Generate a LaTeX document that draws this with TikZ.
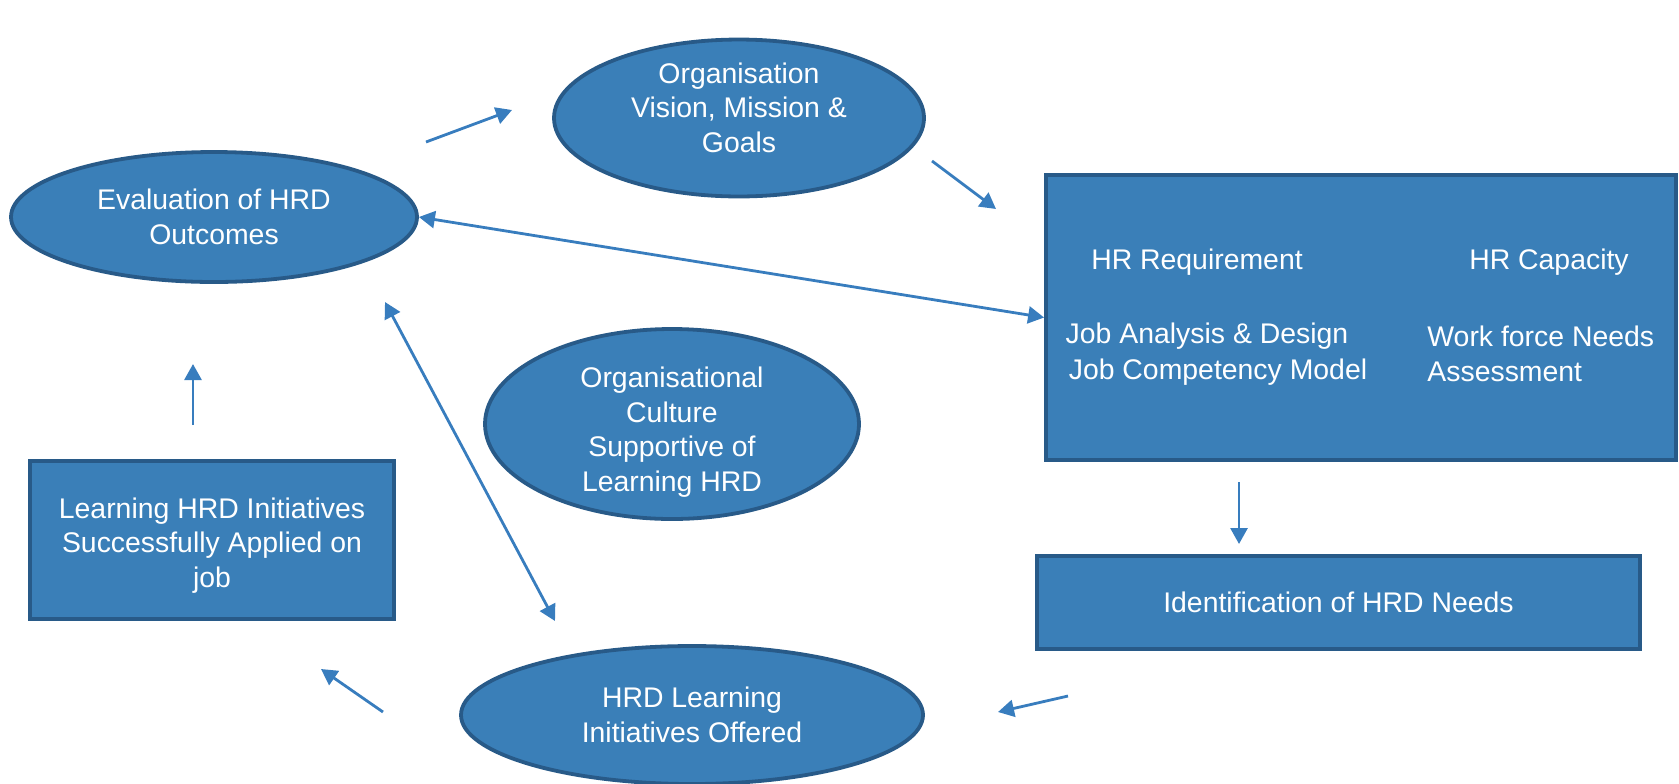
\documentclass[tikz,border=0pt]{standalone}
\usepackage{fontspec}
\setmainfont{Liberation Sans}
\usetikzlibrary{shapes.geometric,arrows.meta}
\definecolor{boxfill}{RGB}{58,127,184}
\definecolor{boxline}{RGB}{40,90,136}
\definecolor{arrowc}{RGB}{56,125,190}
\begin{document}
\begin{tikzpicture}[x=0.5pt,y=-0.5pt,
  every node/.style={font=\fontsize{14.2}{17.4}\selectfont, text=white},
  oval/.style={ellipse, draw=boxline, fill=boxfill, line width=1.9pt, inner sep=0pt, align=center},
  rbox/.style={rectangle, draw=boxline, fill=boxfill, line width=1.9pt, inner sep=0pt, align=center},
  plain/.style={inner sep=0pt, align=center},
  conn/.style={draw=arrowc, line width=1.4pt, -{Triangle[length=8pt,width=8.5pt]}},
  dconn/.style={draw=arrowc, line width=1.4pt, {Triangle[length=8pt,width=8.5pt]}-{Triangle[length=8pt,width=8.5pt]}}]
\path[use as bounding box] (0,0) rectangle (1679,783);

% nodes
\node[oval, minimum width=203pt, minimum height=65pt] (eval) at (214,217) {Evaluation of HRD\\Outcomes};
\node[oval, minimum width=185pt, minimum height=78pt] (vision) at (739,118) {Organisation\\Vision, Mission \&\\Goals\\[-7pt]{}};
\node[oval, minimum width=187pt, minimum height=95pt, inner ysep=-14pt] (culture) at (672,424) {{}\\[1pt]Organisational\\Culture\\Supportive of\\Learning HRD};
\node[oval, minimum width=231pt, minimum height=69pt] (offered) at (692,715) {HRD Learning\\Initiatives Offered};
\node[rbox, minimum width=182pt, minimum height=79pt] (applied) at (212,540) {{}\\[-1.5pt]Learning HRD Initiatives\\Successfully Applied on\\job};
\node[rbox, minimum width=301.5pt, minimum height=46.5pt] (ident) at (1338.5,602.5) {Identification of HRD Needs};
\node[rbox, minimum width=315pt, minimum height=142.5pt] (hr) at (1361,317.5) {};

\node[plain] (req) at (1197,262) {HR Requirement};
\node[plain] (cap) at (1549,262) {HR Capacity};
\node[plain] (jad) at (1207,336) {Job Analysis \& Design};
\node[plain] (jcm) at (1218,372) {Job Competency Model};
\node[plain, anchor=west, align=left] (wfn) at (1427,354) {Work force Needs\\Assessment};

% free arrow ends
\coordinate (a1s) at (426,142); \coordinate (a1e) at (512,110);
\coordinate (a2s) at (932,161); \coordinate (a2e) at (996,209);
\coordinate (a4s) at (385,302); \coordinate (a4e) at (555,621);
\coordinate (a5s) at (193,425); \coordinate (a5e) at (193,364);
\coordinate (a6s) at (1239,482); \coordinate (a6e) at (1239,544);
\coordinate (a7s) at (1068,696); \coordinate (a7e) at (998,712);
\coordinate (a8s) at (383,712); \coordinate (a8e) at (321,669);

% connectors
\draw[conn] (a1s) -- (a1e);
\draw[conn] (a2s) -- (a2e);
\draw[dconn] (eval.east) -- (hr.west);
\draw[dconn] (a4s) -- (a4e);
\draw[conn] (a5s) -- (a5e);
\draw[conn] (a6s) -- (a6e);
\draw[conn] (a7s) -- (a7e);
\draw[conn] (a8s) -- (a8e);
\end{tikzpicture}
\end{document}
